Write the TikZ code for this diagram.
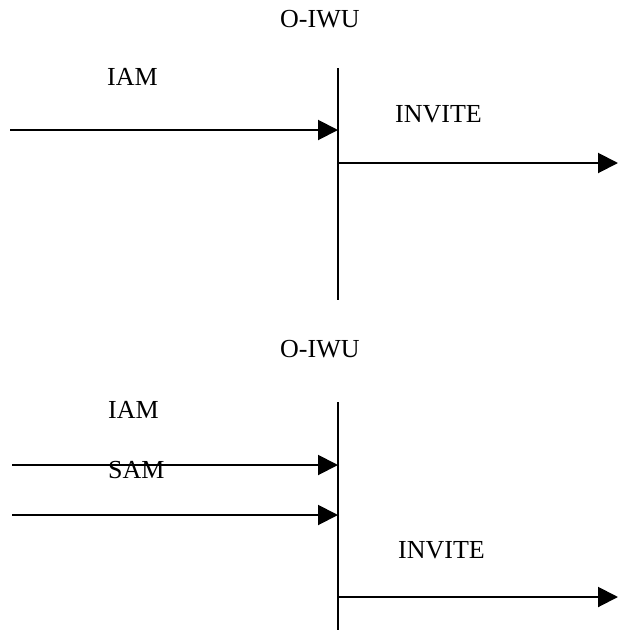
\documentclass[tikz,border=0pt]{standalone}
\usepackage{fontspec}
\setmainfont{Liberation Serif}
\usetikzlibrary{arrows.meta}
\begin{document}
\begin{tikzpicture}[x=1pt,y=-1pt,
  lbl/.style={anchor=base west,inner sep=0pt,font=\fontsize{26}{30}\selectfont},
  lifeline/.style={line width=2pt},
  msg/.style={line width=2pt,-{Triangle[length=20pt,width=20pt]}}]
\useasboundingbox (0,0) rectangle (618,630);

% first scenario: IAM only
\node[lbl] (t1) at (280,27) {O-IWU};
\coordinate (v1top) at (338,68);
\coordinate (v1bot) at (338,300);
\draw[lifeline] (v1top) -- (v1bot);
\node[lbl] (iam1) at (107,85) {IAM};
\node[lbl] (inv1) at (395,122) {INVITE};
\coordinate (a1s) at (10,130);
\coordinate (a1e) at (338,130);
\draw[msg] (a1s) -- (a1e);
\coordinate (b1s) at (338,163);
\coordinate (b1e) at (618,163);
\draw[msg] (b1s) -- (b1e);

% second scenario: IAM followed by SAM
\node[lbl] (t2) at (280,357) {O-IWU};
\coordinate (v2top) at (338,402);
\coordinate (v2bot) at (338,630);
\draw[lifeline] (v2top) -- (v2bot);
\node[lbl] (iam2) at (108,418) {IAM};
\node[lbl] (sam2) at (108,478) {SAM};
\node[lbl] (inv2) at (398,558) {INVITE};
\coordinate (a2s) at (12,465);
\coordinate (a2e) at (338,465);
\draw[msg] (a2s) -- (a2e);
\coordinate (c2s) at (12,515);
\coordinate (c2e) at (338,515);
\draw[msg] (c2s) -- (c2e);
\coordinate (b2s) at (338,597);
\coordinate (b2e) at (618,597);
\draw[msg] (b2s) -- (b2e);
\end{tikzpicture}
\end{document}
